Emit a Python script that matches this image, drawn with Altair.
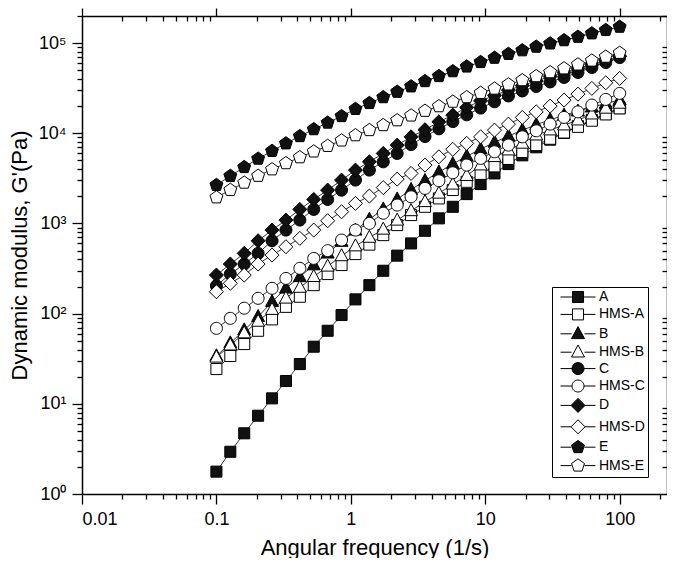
import altair as alt
import pandas as pd

# ---------------- data ----------------
freq = [0.1, 0.1269, 0.1610, 0.2043, 0.2593, 0.3290, 0.4175, 0.5298, 0.6723, 0.8532,
        1.0826, 1.374, 1.743, 2.212, 2.807, 3.562, 4.520, 5.736, 7.279, 9.237,
        11.72, 14.87, 18.87, 23.95, 30.39, 38.57, 48.94, 62.10, 78.80, 100.0]

g_A = [1.77, 2.94, 4.71, 7.38, 11.5, 17.9, 27.6, 43.0, 64.6, 96.5,
       144, 207, 299, 440, 601, 830, 1140, 1531, 2118, 2735,
       3590, 4560, 5700, 7000, 8500, 10100, 12000, 14100, 16500, 19000]
g_HMS_A = [24.3, 33.9, 46.0, 64.6, 86.4, 119, 154, 207, 275, 346,
           458, 583, 743, 960, 1240, 1531, 1897, 2350, 2900, 3550,
           4300, 5200, 6200, 7400, 8700, 10200, 11800, 13800, 16200, 18900]
g_B = [33.9, 47.2, 65.8, 92.5, 135.5, 191, 256, 346, 468, 631,
       841, 1109, 1445, 1862, 2371, 2985, 3715, 4571, 5559, 6683,
       7943, 9333, 10840, 12450, 14130, 15850, 17580, 19500, 21380, 23440]
g_HMS_B = [32.8, 44.7, 61.0, 82.0, 111, 148, 195, 257, 335, 437,
           562, 700, 861, 1084, 1380, 1740, 2160, 2720, 3390, 4440,
           5490, 6510, 7730, 9550, 10850, 12330, 14000, 16300, 18900, 21450]
g_C = [204, 275, 355, 466, 643, 845, 1091, 1432, 1849, 2344,
       3027, 3908, 4831, 5984, 7499, 9226, 11220, 13490, 16030, 19050,
       22390, 26000, 29510, 33110, 37150, 41690, 47320, 53700, 60950, 69180]
g_HMS_C = [68.7, 88.7, 115, 148, 191, 246, 318, 410, 500, 655,
           845, 1002, 1300, 1600, 1977, 2450, 2977, 3650, 4440, 5270,
           6240, 7400, 9140, 10660, 12650, 15000, 17300, 20550, 23770, 27700]
g_D = [268, 355, 466, 643, 845, 1091, 1432, 1849, 2344, 3027,
       3908, 4831, 5984, 7396, 9141, 10960, 13400, 15920, 19360, 22910,
       26300, 30130, 33880, 38020, 42660, 47320, 52480, 58210, 64570, 71610]
g_HMS_D = [175, 217, 268, 355, 446, 552, 684, 845, 1072, 1349,
           1671, 2014, 2500, 3105, 3590, 4440, 5490, 6635, 7730, 9140,
           10850, 12640, 15000, 17300, 20030, 23340, 27200, 31470, 36310, 40600]
g_E = [2667, 3365, 4217, 5224, 6368, 7727, 9290, 11090, 13120, 15490,
       18620, 21630, 25120, 28840, 33110, 37840, 43050, 48750, 54950, 61660,
       68710, 75860, 83180, 91200, 99080, 107600, 117500, 128200, 139600, 151700]
g_HMS_E = [1945, 2355, 2831, 3373, 3981, 4656, 5420, 6281, 7244, 8318,
           9506, 10840, 12300, 13930, 15740, 17740, 19950, 22390, 25120, 28050,
           31260, 34830, 38730, 42950, 47530, 52480, 57940, 63970, 70630, 77980]

series_names = ["A", "HMS-A", "B", "HMS-B", "C", "HMS-C", "D", "HMS-D", "E", "HMS-E"]
series_values = [g_A, g_HMS_A, g_B, g_HMS_B, g_C, g_HMS_C, g_D, g_HMS_D, g_E, g_HMS_E]

x_major = [0.01, 0.1, 1, 10, 100]
x_tick_labels = ["0.01", "0.1", "1", "10", "100"]
y_major = [1, 10, 100, 1000, 10000, 100000]
y_tick_labels = ["10\u2070", "10\u00b9", "10\u00b2", "10\u00b3", "10\u2074", "10\u2075"]

x_minor = [round(k * d, 6) for d in x_major for k in range(2, 10) if k * d <= 225]
y_minor = [k * d for d in y_major for k in range(2, 10) if k * d <= 200000]

rows = []
for si, (name, vals) in enumerate(zip(series_names, series_values)):
    for f, g in zip(freq, vals):
        rows.append({"series": name, "freq": f, "G": g, "ord": si})
df = pd.DataFrame(rows)

# ---------------- styling ----------------
FONT = "Liberation Sans"
W, H = 585, 478

SQ = [(-0.92, -0.92), (0.92, -0.92), (0.92, 0.92), (-0.92, 0.92)]
TRI = [(0, -1.2), (1.08, 0.8), (-1.08, 0.8)]
DIA = [(0, -1.17), (1.17, 0), (0, 1.17), (-1.17, 0)]
PENT = [(0, -1.13), (1.075, -0.349), (0.664, 0.914), (-0.664, 0.914), (-1.075, -0.349)]


def poly(pts, dx=0.0):
    return "M" + "L".join(f"{x + dx:.3f},{y:.3f}" for x, y in pts) + "Z"


def circ(dx=0.0, r=1.0):
    return (f"M{dx + r:.3f},0A{r},{r},0,1,1,{dx - r:.3f},0"
            f"A{r},{r},0,1,1,{dx + r:.3f},0Z")


def marker(kind, dx=0.0):
    if kind == "sq":
        return poly(SQ, dx), 0.92
    if kind == "tri":
        return poly(TRI, dx), 1.08
    if kind == "dia":
        return poly(DIA, dx), 1.17
    if kind == "pent":
        return poly(PENT, dx), 1.075
    return circ(dx), 1.0


kinds = ["sq", "sq", "tri", "tri", "circ", "circ", "dia", "dia", "pent", "pent"]
fills = ["#111111", "white"] * 5
strokes = ["black"] * 10

plot_paths = [marker(k)[0] for k in kinds]
CX, L0, L1 = 2.67, -0.25, 5.58
legend_paths = []
for k in kinds:
    p, hw = marker(k, CX)
    legend_paths.append(p + f"M{L0},0L{CX - hw:.3f},0M{CX + hw:.3f},0L{L1},0")

XS = alt.Scale(type="log", domain=[0.01, 225], nice=False)
YS = alt.Scale(type="log", domain=[1, 200000], nice=False)

base_ax = dict(grid=False, domainColor="black", tickColor="black", tickWidth=1.3,
               domainWidth=1.5, labelColor="black", titleColor="black",
               labelFont=FONT, titleFont=FONT)


def lab_expr(vals, labs):
    parts = " : ".join(
        f"abs(datum.value - {v}) < {v * 0.01} ? '{l}'" for v, l in zip(vals, labs))
    return parts + " : ''"


x_bottom_major = alt.Axis(orient="bottom", values=x_major, tickSize=10,
                          labelExpr=lab_expr(x_major, x_tick_labels),
                          labelFontSize=18, labelPadding=6,
                          title="Angular frequency (1/s)", titleFontSize=22,
                          titleFontWeight="normal", titlePadding=9, **base_ax)
y_left_major = alt.Axis(orient="left", values=y_major, tickSize=10,
                        labelExpr=lab_expr(y_major, y_tick_labels),
                        labelFontSize=18, labelPadding=6,
                        title="Dynamic modulus, G'(Pa)", titleFontSize=22,
                        titleFontWeight="normal", titlePadding=7, **base_ax)

x_bottom_minor = alt.Axis(orient="bottom", values=x_minor, tickSize=5, labels=False,
                          domain=False, title=None, **base_ax)
y_left_minor = alt.Axis(orient="left", values=y_minor, tickSize=5, labels=False,
                        domain=False, title=None, **base_ax)
x_top_major = alt.Axis(orient="top", values=x_major, tickSize=8, labels=False,
                       title=None, **base_ax)
y_right_major = alt.Axis(orient="right", values=y_major, tickSize=8, labels=False,
                         title=None, **base_ax)
x_top_minor = alt.Axis(orient="bottom", offset=-H, values=x_minor, tickSize=5,
                       labels=False, domain=False, title=None, **base_ax)
y_right_minor = alt.Axis(orient="left", offset=-W, values=y_minor, tickSize=5,
                         labels=False, domain=False, title=None, **base_ax)

lines = alt.Chart(df).mark_line(color="black", strokeWidth=0.8).encode(
    x=alt.X("freq:Q", scale=XS, axis=x_bottom_major),
    y=alt.Y("G:Q", scale=YS, axis=y_left_major),
    detail="series:N",
    order="freq:Q",
)

points = alt.Chart(df).mark_point(filled=True, size=144, stroke="black",
                                  strokeWidth=1, opacity=1).encode(
    x=alt.X("freq:Q", scale=XS, axis=None),
    y=alt.Y("G:Q", scale=YS, axis=None),
    shape=alt.Shape("series:N", scale=alt.Scale(domain=series_names, range=plot_paths),
                    legend=None),
    fill=alt.Fill("series:N", scale=alt.Scale(domain=series_names, range=fills),
                  legend=None),
)


def ghost(xax, yax):
    return alt.Chart(df).mark_point(opacity=0).encode(
        x=alt.X("freq:Q", scale=XS, axis=xax),
        y=alt.Y("G:Q", scale=YS, axis=yax),
    )


leg = alt.Legend(title=None, orient="none", legendX=470, legendY=271, padding=3,
                 strokeColor="black", fillColor="white", symbolSize=144,
                 symbolStrokeWidth=1, symbolOpacity=1,
                 labelFont=FONT, labelFontSize=14, labelColor="black",
                 labelOffset=30, rowPadding=1.4, labelLimit=200)

legend_layer = alt.Chart(df).mark_point(filled=True, size=144, opacity=0).encode(
    x=alt.X("freq:Q", scale=XS, axis=None),
    y=alt.Y("G:Q", scale=YS, axis=None),
    shape=alt.Shape("series:N", scale=alt.Scale(domain=series_names, range=legend_paths),
                    legend=leg),
    fill=alt.Fill("series:N", scale=alt.Scale(domain=series_names, range=fills),
                  legend=leg),
    stroke=alt.Stroke("series:N", scale=alt.Scale(domain=series_names, range=strokes),
                      legend=leg),
)

chart = alt.layer(
    lines,
    ghost(x_bottom_minor, y_left_minor),
    ghost(x_top_major, y_right_major),
    ghost(x_top_minor, y_right_minor),
    points,
    legend_layer,
).resolve_scale(shape="independent", fill="independent", stroke="independent").resolve_axis(
    x="independent", y="independent"
).properties(
    width=W, height=H,
    padding={"left": 74, "top": 8, "right": 0, "bottom": 64},
    autosize=alt.AutoSizeParams(type="none"),
).configure_view(stroke=None).configure(background="white")

chart.save("out.html", embed_options={"renderer": "svg", "actions": False})
